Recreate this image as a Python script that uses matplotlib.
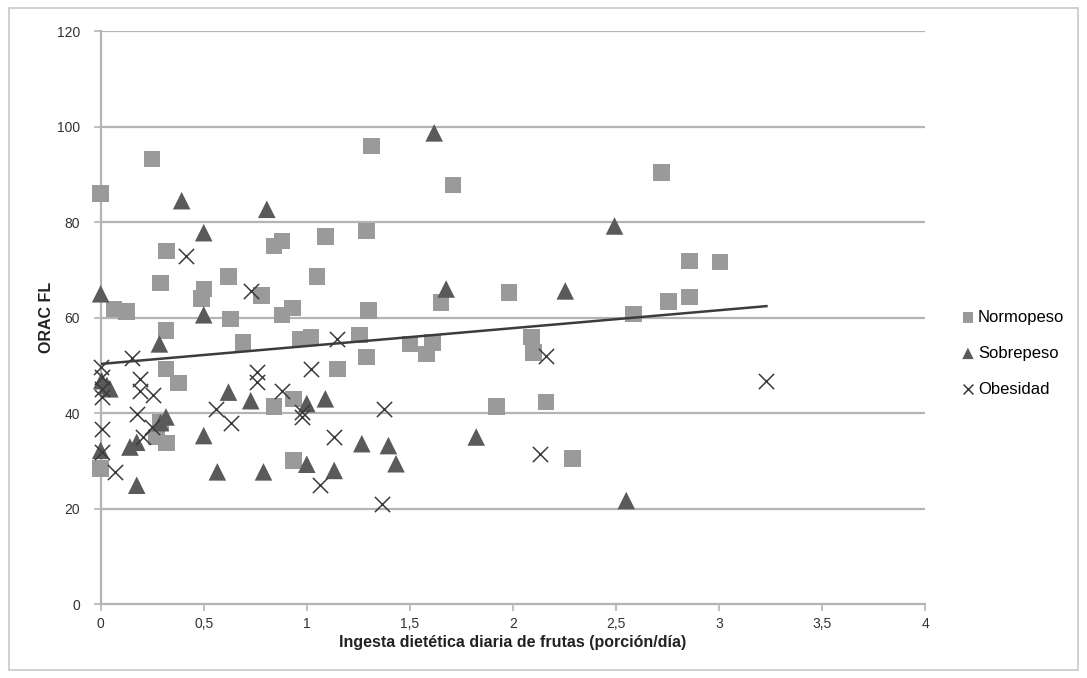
import numpy as np
import matplotlib
matplotlib.use('Agg')
import matplotlib.pyplot as plt
from matplotlib.patches import Rectangle
from matplotlib.ticker import FuncFormatter

plt.rcParams['font.family'] = ['Liberation Sans', 'DejaVu Sans']

# Normopeso (squares)
normo_x = [0.0, 0.25, 1.315, 0.32, 0.29, 0.50, 0.49, 0.62, 0.84, 0.88, 0.78, 1.05, 1.09,
           1.29, 0.065, 0.126, 0.63, 0.88, 0.93, 1.30, 0.317, 0.317, 0.377, 0.27, 0.32,
           0.29, 0.0, 0.69, 0.84, 0.935, 0.935, 0.97, 1.02, 1.15, 1.255, 1.29, 1.50,
           1.61, 1.58, 1.65, 1.98, 2.09, 2.10, 1.92, 2.16, 2.29, 2.585, 2.755, 1.71,
           2.72, 2.857, 3.006, 2.857]
normo_y = [86.0, 93.2, 96.0, 74.0, 67.3, 66.0, 64.0, 68.6, 75.0, 76.0, 64.6, 68.6, 77.0,
           78.2, 61.8, 61.3, 59.7, 60.6, 62.0, 61.5, 57.3, 49.3, 46.3, 35.0, 33.8,
           38.0, 28.4, 54.8, 41.4, 43.0, 30.1, 55.5, 55.9, 49.3, 56.4, 51.7, 54.5,
           54.8, 52.4, 63.2, 65.3, 55.9, 52.7, 41.4, 42.3, 30.5, 60.8, 63.4, 87.8,
           90.4, 71.9, 71.6, 64.3]

# Sobrepeso (triangles)
sobre_x = [0.393, 0.806, 0.50, 0.0, 0.50, 1.618, 2.493, 1.676, 2.254, 0.285, 0.005, 0.03,
           0.045, 0.0, 0.142, 0.175, 0.175, 0.317, 0.29, 0.50, 0.566, 0.62, 0.728, 0.79,
           1.0, 1.0, 1.09, 1.133, 1.267, 1.396, 1.433, 1.822, 2.55]
sobre_y = [84.5, 82.7, 77.8, 65.0, 60.6, 98.7, 79.2, 66.0, 65.6, 54.5, 46.8, 45.8,
           45.1, 32.2, 32.9, 33.9, 24.9, 39.2, 38.0, 35.3, 27.7, 44.4, 42.6, 27.7,
           42.0, 29.3, 43.0, 28.0, 33.6, 33.2, 29.4, 35.0, 21.7]

# Obesidad (x)
obes_x = [0.414, 0.73, 0.0, 0.005, 0.005, 0.005, 0.005, 0.005, 0.07, 0.15, 0.19, 0.19,
          0.255, 0.178, 0.207, 0.247, 0.56, 0.63, 0.757, 0.757, 0.88, 0.975, 0.975,
          1.02, 1.065, 1.133, 1.146, 1.375, 1.364, 2.162, 2.13, 3.23]
obes_y = [73.0, 65.5, 49.6, 47.5, 45.1, 43.3, 36.7, 31.8, 27.7, 51.6, 47.2, 44.7,
          43.9, 39.9, 35.0, 37.1, 40.9, 37.9, 48.6, 46.5, 44.7, 39.2, 40.2,
          49.3, 24.9, 35.1, 55.5, 40.9, 21.0, 52.0, 31.5, 46.8]

# linear trend
trend_x = [0.0, 3.23]
trend_intercept = 50.3
trend_slope = 3.75

fig = plt.figure(figsize=(10.87, 6.78), dpi=100)
ax = fig.add_axes([0.0926, 0.109, 0.7585, 0.845])

grid_c = '#b4b4b4'
for v in range(20, 121, 20):
    ax.axhline(v, color=grid_c, linewidth=1.6, zorder=0)

ax.scatter(normo_x, normo_y, marker='s', s=140, color='#9a9a9a', edgecolors='none',
           label='Normopeso', zorder=3, clip_on=False)
ax.scatter(sobre_x, sobre_y, marker='^', s=160, color='#5a5a5a', edgecolors='none',
           label='Sobrepeso', zorder=3, clip_on=False)
ax.scatter(obes_x, obes_y, marker='x', s=120, color='#3a3a3a', linewidths=1.1,
           label='Obesidad', zorder=4, clip_on=False)

tx = np.array(trend_x)
ax.plot(tx, trend_intercept + trend_slope * tx, color='#3c3c3c', linewidth=1.8, zorder=5)

ax.set_xlim(0, 4)
ax.set_ylim(0, 120)
ax.set_xticks(np.arange(0, 4.01, 0.5))
ax.set_yticks(range(0, 121, 20))
ax.xaxis.set_major_formatter(FuncFormatter(lambda v, p: ('%g' % v).replace('.', ',')))

for s in ['top', 'right']:
    ax.spines[s].set_visible(False)
for s in ['left', 'bottom']:
    ax.spines[s].set_color(grid_c)
    ax.spines[s].set_linewidth(1.6)
ax.tick_params(axis='both', colors=grid_c, length=5, width=1.2, labelsize=10,
               labelcolor='#333333')
ax.tick_params(axis='x', pad=4)
ax.tick_params(axis='y', pad=10)

ax.set_xlabel('Ingesta dietética diaria de frutas (porción/día)', fontsize=11.5,
              fontweight='bold', labelpad=3, color='#222222')
ax.set_ylabel('ORAC FL', fontsize=11.5, fontweight='bold', labelpad=2, color='#222222')

leg = fig.legend(loc='upper left', bbox_to_anchor=(0.869, 0.565), frameon=False,
                 fontsize=12, handletextpad=0.1, labelspacing=1.25, markerscale=0.65,
                 handlelength=1.0)

fig.patches.append(Rectangle((0.008, 0.012), 0.984, 0.976, transform=fig.transFigure,
                             fill=False, edgecolor='#c8c8c8', linewidth=1.2))

fig.savefig('out.png', dpi=100)
